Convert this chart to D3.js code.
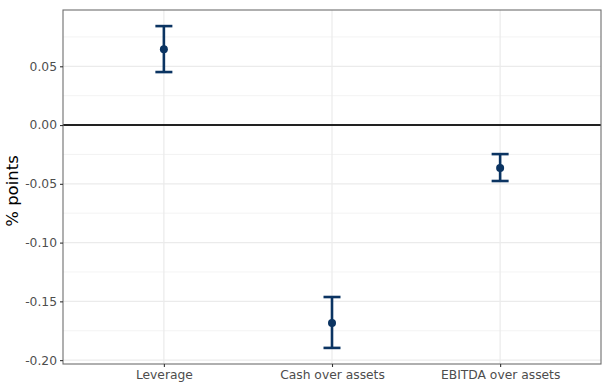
<!DOCTYPE html>
<html><head><meta charset="utf-8">
<script src="https://cdn.jsdelivr.net/npm/d3@7"></script>
<style>body{margin:0;background:#fff;}svg{display:block;font-family:"DejaVu Sans",sans-serif;}</style>
</head><body>
<script>
const categories = ["Leverage", "Cash over assets", "EBITDA over assets"];
const estimates = [0.0646, -0.1684, -0.0366];
const lowerCI = [0.0451, -0.1896, -0.0476];
const upperCI = [0.0842, -0.1463, -0.0247];
const yTicks = [0.05, 0.00, -0.05, -0.10, -0.15, -0.20];
const yMinor = [0.075, 0.025, -0.025, -0.075, -0.125, -0.175];

const W = 608, H = 390;
const m = {left: 63, right: 7, top: 10, bottom: 26};
const svg = d3.select("body").append("svg").attr("width", W).attr("height", H);
const pw = W - m.left - m.right, ph = H - m.top - m.bottom;
const g = svg.append("g").attr("transform", `translate(${m.left},${m.top})`);

const dmin = d3.min(lowerCI), dmax = d3.max(upperCI);
const pad = (dmax - dmin) * 0.05;
const y = d3.scaleLinear().domain([dmin - pad, dmax + pad]).range([ph, 0]);
const x = d3.scalePoint().domain(categories).range([0, pw]).padding(0.6);

// grid
g.selectAll(".minor").data(yMinor).join("line")
  .attr("x1", 0).attr("x2", pw).attr("y1", d => y(d)).attr("y2", d => y(d))
  .attr("stroke", "#f0f0f0").attr("stroke-width", 0.8);
g.selectAll(".major").data(yTicks).join("line")
  .attr("x1", 0).attr("x2", pw).attr("y1", d => y(d)).attr("y2", d => y(d))
  .attr("stroke", "#ebebeb").attr("stroke-width", 1.2);
g.selectAll(".vmajor").data(categories).join("line")
  .attr("x1", d => x(d)).attr("x2", d => x(d)).attr("y1", 0).attr("y2", ph)
  .attr("stroke", "#ebebeb").attr("stroke-width", 1.2);

// zero line
g.append("line").attr("x1", 0).attr("x2", pw).attr("y1", y(0)).attr("y2", y(0))
  .attr("stroke", "#222").attr("stroke-width", 2);

// error bars
const col = "#0b3462";
const capW = 8.5;
categories.forEach((c, i) => {
  const cx = x(c);
  g.append("line").attr("x1", cx).attr("x2", cx).attr("y1", y(lowerCI[i])).attr("y2", y(upperCI[i]))
    .attr("stroke", col).attr("stroke-width", 2.6);
  [lowerCI[i], upperCI[i]].forEach(v => {
    g.append("line").attr("x1", cx - capW).attr("x2", cx + capW).attr("y1", y(v)).attr("y2", y(v))
      .attr("stroke", col).attr("stroke-width", 2.6);
  });
  g.append("circle").attr("cx", cx).attr("cy", y(estimates[i])).attr("r", 4).attr("fill", col);
});

// border
g.append("rect").attr("x", 0).attr("y", 0).attr("width", pw).attr("height", ph)
  .attr("fill", "none").attr("stroke", "#6e6e6e").attr("stroke-width", 1.1);

// axes
const yAxis = g.append("g").call(d3.axisLeft(y).tickValues(yTicks).tickSize(3).tickPadding(3)
  .tickFormat(d => d3.format(".2f")(d).replace("−", "-")));
const xAxis = g.append("g").attr("transform", `translate(0,${ph})`)
  .call(d3.axisBottom(x).tickSize(3).tickPadding(3));
[yAxis, xAxis].forEach(a => {
  a.select(".domain").remove();
  a.selectAll(".tick line").attr("stroke", "#333").attr("stroke-width", 1.1);
  a.selectAll(".tick text").attr("fill", "#4d4d4d").style("font-size", "12.3px")
    .style("font-family", "DejaVu Sans, sans-serif");
});

svg.append("text").attr("transform", `translate(18,${m.top + ph/2 + 4}) rotate(-90)`)
  .attr("text-anchor", "middle").style("font-size", "16.5px").attr("fill", "#000")
  .text("% points");
</script>
</body></html>
